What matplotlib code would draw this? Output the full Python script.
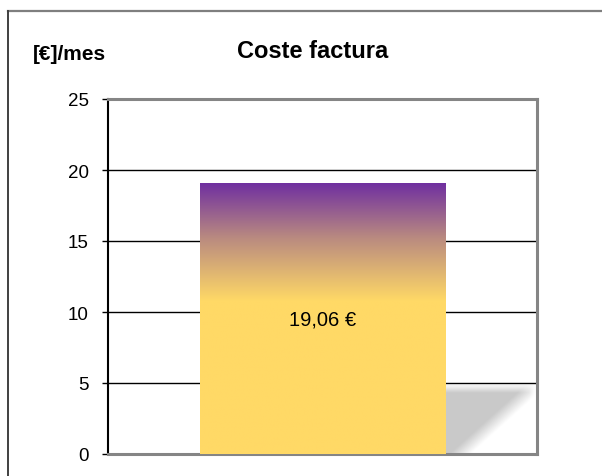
import matplotlib
matplotlib.use("Agg")
import matplotlib.pyplot as plt
from matplotlib.lines import Line2D
from matplotlib.colors import LinearSegmentedColormap
import numpy as np

plt.rcParams["font.family"] = ["Liberation Sans", "DejaVu Sans"]

# data
categories = ["Coste factura"]
costes = [19.06]
y_ticks = [0, 5, 10, 15, 20, 25]
titulo = "Coste factura"
unidad = "[€]/mes"

fig = plt.figure(figsize=(6.02, 4.77), dpi=100)
ax = fig.add_axes([108 / 602, 22 / 477, 429 / 602, 355 / 477])

x = np.arange(len(categories))
bar_w = 0.573
bars = ax.bar(x, costes, width=bar_w, color="#FFD966", edgecolor="none", zorder=3)

# purple -> yellow gradient on top part of the bar
grad = LinearSegmentedColormap.from_list(
    "grad", [(0.0, "#FFD966"), (0.565, "#FFD966"), (0.80, "#B98A80"), (1.0, "#7030A0")])
for rect, val in zip(bars, costes):
    x0 = rect.get_x()
    x1 = x0 + rect.get_width()
    g = np.linspace(0, 1, 256).reshape(-1, 1)
    im = ax.imshow(g, cmap=grad, aspect="auto", origin="lower",
                   extent=[x0, x1, 0, val], zorder=4, interpolation="bilinear")
    im.set_clip_path(rect)

    # soft shadow to the right of the bar
    sx0, sx1 = x1, 0.5
    sh = 0.195 * 25
    ny, nx = 80, 120
    u = np.linspace(0, 1, nx)[None, :]
    v = np.linspace(0, 1, ny)[:, None]
    edge = (u - 0.2) / 0.8 * 0.95
    a_diag = np.clip((v - edge) / 0.28 + 0.35, 0, 1)
    a_top = np.clip((1 - v) / 0.12, 0.25, 1)
    a_right = np.clip((1 - u) / 0.08, 0, 1)
    alpha = a_diag * a_top * a_right
    rgba = np.zeros((ny, nx, 4))
    rgba[..., :3] = 0.79
    rgba[..., 3] = alpha
    ax.imshow(rgba, aspect="auto", origin="lower", extent=[sx0, sx1, 0, sh],
              zorder=2, interpolation="bilinear")

    ax.text(rect.get_x() + rect.get_width() / 2, val / 2,
            f"{val:.2f}".replace(".", ",") + " €",
            ha="center", va="center", fontsize=14.5, color="black", zorder=5)

ax.set_xlim(-0.5, 0.5)
ax.set_ylim(y_ticks[0], y_ticks[-1])
ax.set_yticks(y_ticks)
ax.set_xticks([])
ax.tick_params(axis="y", labelsize=13.5, length=4, width=1, pad=10, color="black")
ax.yaxis.grid(True, color="black", linewidth=1, zorder=1)
ax.set_axisbelow(True)

ax.spines["left"].set_color("black")
ax.spines["left"].set_linewidth(1.5)
for side in ["top", "right", "bottom"]:
    ax.spines[side].set_color("#858585")
    ax.spines[side].set_linewidth(2.2)

fig.text(313 / 602, 1 - 58.5 / 477, titulo, ha="center", va="baseline",
         fontsize=17, fontweight="bold")
fig.text(33 / 602, 1 - 60 / 477, unidad, ha="left", va="baseline",
         fontsize=15, fontweight="bold")

# outer chart border (runs off the right and bottom of the picture)
fig.add_artist(Line2D([8 / 602, 1.01], [1 - 12 / 477, 1 - 12 / 477],
                      transform=fig.transFigure, color="#7F7F7F", linewidth=1.6))
fig.add_artist(Line2D([8 / 602, 8 / 602], [1 - 12 / 477, -0.01],
                      transform=fig.transFigure, color="#404040", linewidth=1.4))

plt.savefig("out.png", dpi=100)
plt.close()
